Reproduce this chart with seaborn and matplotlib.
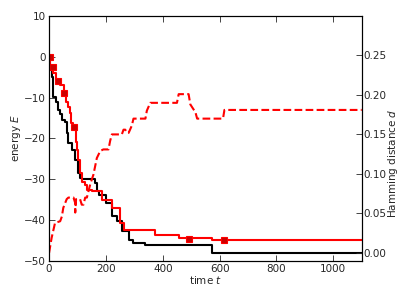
import numpy as np
import pandas as pd
import seaborn as sns
import matplotlib
matplotlib.use("Agg")
import matplotlib.pyplot as plt

# energy traces (step functions)
t_black = [0, 5, 10, 15, 25, 33, 40, 45, 56, 62, 68, 80, 92, 103, 110, 115, 162,
           168, 176, 200, 221, 239, 256, 280, 295, 339, 574, 1100]
E_black = [0, -3, -5, -9.8, -11, -13, -14, -15.4, -16, -18.7, -21.2, -22.8, -25.2,
           -28.5, -29.7, -30, -31, -33, -33.8, -35.8, -39.1, -40.2, -42.8, -44.9,
           -45.7, -46.2, -48.0, -48.0]

t_red = [0, 5, 15, 25, 32, 40, 53, 60, 65, 72, 78, 85, 95, 100, 103, 109, 115, 127,
         133, 150, 186, 221, 250, 262, 374, 456, 574, 1100]
E_red = [0, -2.6, -4, -5.5, -6, -7, -8.9, -11, -12.2, -13.7, -16.2, -17.3, -21,
         -22.8, -25.2, -28.5, -30.6, -31.4, -32.6, -33, -35.2, -37.1, -40.8, -42.4,
         -43.6, -44.4, -44.9, -44.9]

t_marks = [3, 13, 32, 53, 88, 494, 616]
E_marks = [0, -2.6, -6, -8.9, -17.3, -44.6, -44.9]

# Hamming distance
t_ham = [0, 9, 21, 39, 45, 50, 62, 68, 86, 92, 92, 95, 109, 115, 121, 127, 133, 145,
         156, 168, 180, 191, 209, 215, 221, 256, 262, 268, 274, 280, 291, 297, 339,
         344, 356, 450, 456, 491, 497, 515, 521, 612, 617, 1100]
d_ham = [0.0, 0.019, 0.038, 0.040, 0.046, 0.057, 0.068, 0.070, 0.070, 0.063, 0.051,
         0.068, 0.068, 0.061, 0.061, 0.070, 0.070, 0.087, 0.099, 0.12, 0.129, 0.131,
         0.131, 0.142, 0.150, 0.150, 0.156, 0.156, 0.152, 0.152, 0.161, 0.170, 0.170,
         0.180, 0.190, 0.190, 0.201, 0.201, 0.188, 0.178, 0.170, 0.170, 0.181, 0.181]

sns.set_style("white")
plt.rcParams["font.family"] = ["DejaVu Sans"]
plt.rcParams["font.size"] = 7.5

fig = plt.figure(figsize=(3.99, 2.99), dpi=100)
ax = fig.add_axes([0.123, 0.128, 0.7835, 0.8185])
ax2 = ax.twinx()

sns.lineplot(x=t_black, y=E_black, ax=ax, color="k", lw=1.5, drawstyle="steps-post",
             estimator=None, sort=False)
sns.lineplot(x=t_red, y=E_red, ax=ax, color="r", lw=1.5, drawstyle="steps-post",
             estimator=None, sort=False)
ax.plot(t_marks, E_marks, ls="none", marker="s", ms=4, mfc="#cc0000", mec="r", mew=0.8)
sns.lineplot(x=t_ham, y=d_ham, ax=ax2, color="r", lw=1.5, linestyle="--",
             estimator=None, sort=False)

ax.set_xlim(0, 1100)
ax.set_ylim(-50, 10)
ax.set_yticks(np.arange(-50, 11, 10))
ax.set_xticks(np.arange(0, 1001, 200))
ax2.set_ylim(-0.01, 0.30)
ax2.set_yticks([0.0, 0.05, 0.10, 0.15, 0.20, 0.25])
ax2.set_yticklabels(["0.00", "0.05", "0.10", "0.15", "0.20", "0.25"])

ax.set_xlabel("time $t$")
ax.set_ylabel("energy $E$")
ax2.set_ylabel("Hamming distance $d$")
ax.xaxis.set_label_coords(0.5, -0.055)
ax.yaxis.set_label_coords(-0.085, 0.5)
ax2.yaxis.set_label_coords(1.078, 0.40)

for a in (ax, ax2):
    for s in a.spines.values():
        s.set_color("black")
        s.set_linewidth(0.8)
ax.tick_params(axis="x", direction="in", top=True, bottom=True, length=4, width=0.6,
               labelsize=7.5, pad=2.5)
ax.tick_params(axis="y", direction="in", left=True, right=False, length=4, width=0.6,
               labelsize=7.5, pad=2.5)
ax2.tick_params(axis="y", direction="in", right=True, length=4, width=0.6,
                labelsize=7.5, pad=1.5)

fig.savefig("out.png", dpi=100)
